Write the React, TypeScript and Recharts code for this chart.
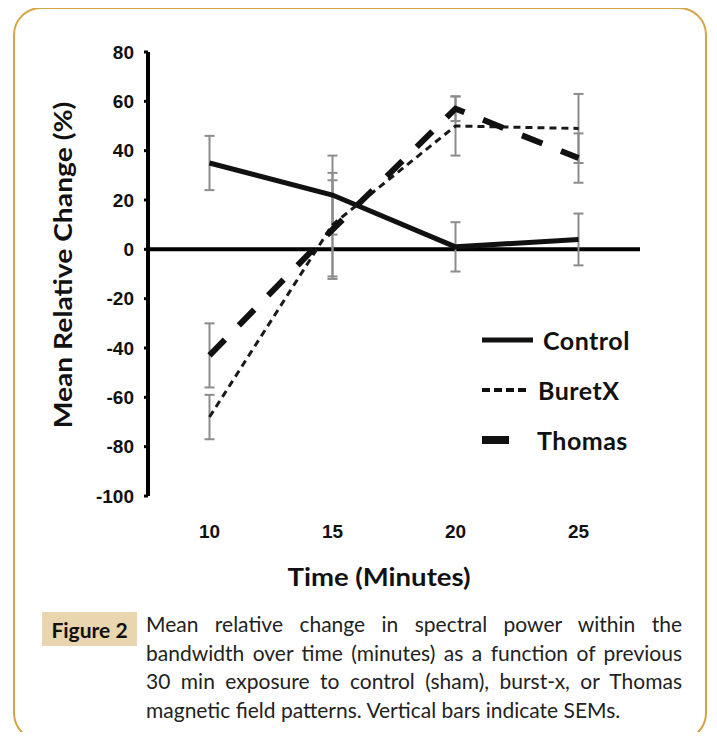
import { LineChart, Line, XAxis, YAxis, ErrorBar, ReferenceLine } from 'recharts';

const times = [10, 15, 20, 25];
const controlMean = [35, 22, 1, 4];
const controlSem = [11, 16, 10, 10.5];
const buretxMean = [-68, 10, 50, 49];
const buretxSem = [9, 21, 12, 14];
const thomasMean = [-43, 8, 57, 37];
const thomasSem = [13, 20, 5, 10];

const xTicks = [10, 15, 20, 25];
const yTicks = [-100, -80, -60, -40, -20, 0, 20, 40, 60, 80];
const seriesNames = ['Control', 'BuretX', 'Thomas'];

const captionLines = [
  'Mean relative change in spectral power within the',
  'bandwidth over time (minutes) as a function of previous',
  '30 min exposure to control (sham), burst-x, or Thomas',
  'magnetic field patterns. Vertical bars indicate SEMs.',
];

const data = times.map((t, i) => ({
  time: t,
  control: controlMean[i],
  controlErr: controlSem[i],
  buretx: buretxMean[i],
  buretxErr: buretxSem[i],
  thomas: thomasMean[i],
  thomasErr: thomasSem[i],
}));

const tickFont = { fontSize: 19, fontWeight: 700, fill: '#111', fontFamily: '"Liberation Sans", Arial, sans-serif' };
const titleFont = 'Lato, "Noto Sans", sans-serif';
const errColor = '#8c8c8c';

// little line samples for the legend
const legendSamples = [
  { w: 51, sw: 5, dash: undefined },
  { w: 45, sw: 4, dash: '8 4' },
  { w: 27, sw: 8, dash: undefined },
];

export default function App() {
  return (
    <div style={{ position: 'relative', width: 717, height: 740, margin: -8, background: '#fff', overflow: 'hidden' }}>
      {/* gold frame */}
      <div
        style={{
          position: 'absolute',
          left: 13,
          top: 7,
          width: 690,
          height: 730,
          border: '2px solid #d5a444',
          borderRadius: 28,
        }}
      />

      <div style={{ position: 'absolute', left: 0, top: 0 }}>
        <LineChart width={717} height={740} data={data} margin={{ top: 52, right: 77, left: 88, bottom: 214 }}>
          <XAxis
            dataKey="time"
            type="number"
            domain={[7.5, 27.5]}
            ticks={xTicks}
            axisLine={false}
            tickLine={false}
            tickMargin={23}
            height={30}
            tick={tickFont}
          />
          <YAxis
            type="number"
            domain={[-100, 80]}
            ticks={yTicks}
            width={60}
            axisLine={{ stroke: '#000', strokeWidth: 4 }}
            tickLine={{ stroke: '#000', strokeWidth: 3 }}
            tickSize={4}
            tickMargin={10}
            tick={tickFont}
            interval={0}
          />
          <ReferenceLine y={0} stroke="#000" strokeWidth={4} />

          {/* error bars first so they sit under the lines */}
          <Line dataKey="control" stroke="none" dot={false} activeDot={false} isAnimationActive={false} legendType="none">
            <ErrorBar dataKey="controlErr" direction="y" width={5} stroke={errColor} strokeWidth={2} />
          </Line>
          <Line dataKey="buretx" stroke="none" dot={false} activeDot={false} isAnimationActive={false} legendType="none">
            <ErrorBar dataKey="buretxErr" direction="y" width={5} stroke={errColor} strokeWidth={2} />
          </Line>
          <Line dataKey="thomas" stroke="none" dot={false} activeDot={false} isAnimationActive={false} legendType="none">
            <ErrorBar dataKey="thomasErr" direction="y" width={5} stroke={errColor} strokeWidth={2} />
          </Line>

          <Line dataKey="control" stroke="#111" strokeWidth={5} dot={false} activeDot={false} isAnimationActive={false} />
          <Line dataKey="buretx" stroke="#1a1a1a" strokeWidth={3} strokeDasharray="7 5" dot={false} activeDot={false} isAnimationActive={false} />
          <Line dataKey="thomas" stroke="#111" strokeWidth={6} strokeDasharray="22 20" dot={false} activeDot={false} isAnimationActive={false} />
        </LineChart>
      </div>

      {/* y axis title */}
      <div
        style={{
          position: 'absolute',
          left: 62,
          top: 265,
          transform: 'translate(-50%, -50%) rotate(-90deg) scaleX(1.13)',
          whiteSpace: 'nowrap',
          fontFamily: titleFont,
          fontWeight: 700,
          fontSize: 25,
          color: '#111',
        }}
      >
        Mean Relative Change (%)
      </div>

      {/* x axis title */}
      <div
        style={{
          position: 'absolute',
          left: 379,
          top: 576,
          transform: 'translate(-50%, -50%) scaleX(1.1)',
          whiteSpace: 'nowrap',
          fontFamily: titleFont,
          fontWeight: 700,
          fontSize: 25,
          color: '#111',
        }}
      >
        Time (Minutes)
      </div>

      {/* legend */}
      {seriesNames.map((name, i) => {
        const s = legendSamples[i];
        const cy = 340 + i * 50;
        return (
          <div key={name} style={{ position: 'absolute', left: 482, top: cy - 16, height: 32, display: 'flex', alignItems: 'center' }}>
            <svg width={s.w} height={12} style={{ display: 'block' }}>
              <line x1={0} y1={6} x2={s.w} y2={6} stroke="#111" strokeWidth={s.sw} strokeDasharray={s.dash} />
            </svg>
            <span
              style={{
                marginLeft: i === 0 ? 10 : i === 1 ? 11 : 28,
                fontFamily: titleFont,
                fontWeight: 700,
                fontSize: 25,
                letterSpacing: 0.5,
                color: '#111',
              }}
            >
              {name}
            </span>
          </div>
        );
      })}

      {/* caption */}
      <div
        style={{
          position: 'absolute',
          left: 42,
          top: 612,
          width: 95,
          height: 34,
          background: '#e9d5ae',
          display: 'flex',
          alignItems: 'center',
          justifyContent: 'center',
          fontFamily: titleFont,
          fontWeight: 700,
          fontSize: 21,
          color: '#111',
        }}
      >
        Figure 2
      </div>
      <div style={{ position: 'absolute', left: 146, top: 610, width: 536, fontFamily: titleFont, fontSize: 21, lineHeight: '28.5px', color: '#222' }}>
        {captionLines.map((line, i) => (
          <div
            key={i}
            style={{
              textAlign: 'justify',
              textAlignLast: i < captionLines.length - 1 ? 'justify' : 'left',
              whiteSpace: 'nowrap',
            }}
          >
            {line}
          </div>
        ))}
      </div>
    </div>
  );
}
